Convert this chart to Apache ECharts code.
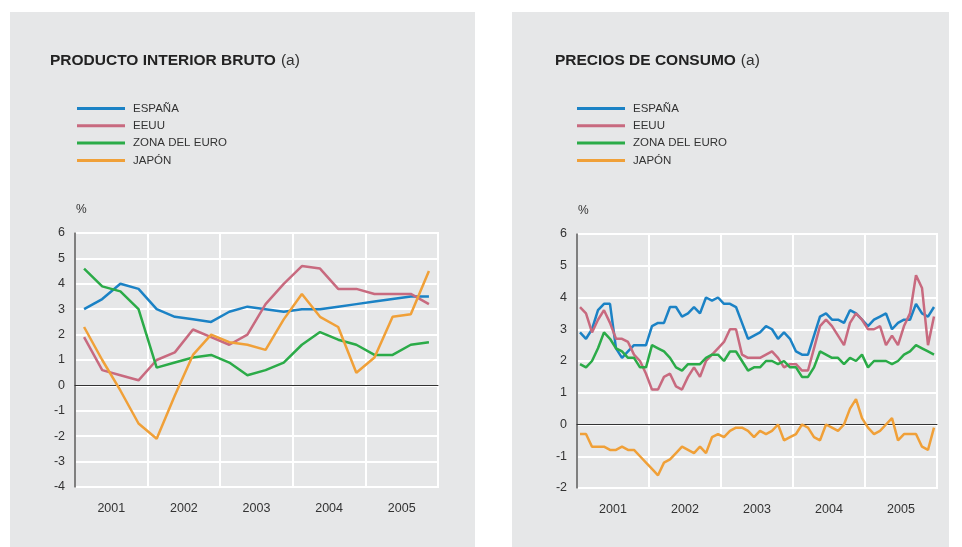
<!DOCTYPE html>
<html>
<head>
<meta charset="utf-8">
<title>PIB y precios de consumo</title>
<script src="https://cdn.jsdelivr.net/npm/echarts@6/dist/echarts.min.js"></script>
<style>
  html, body { margin: 0; padding: 0; background: #fff; }
  #chart { width: 962px; height: 547px; }
</style>
</head>
<body>
<div id="chart"></div>
<script>
// categorias
var years = ['2001', '2002', '2003', '2004', '2005'];
var seriesNames = ['ESPAÑA', 'EEUU', 'ZONA DEL EURO', 'JAPÓN'];
var colors = ['#1b82c5', '#c86a7f', '#2bab48', '#f0a038'];

// PIB trimestral (20 trimestres, 2001-2005)
var pibEspana = [3.0, 3.4, 4.0, 3.8, 3.0, 2.7, 2.6, 2.5, 2.9, 3.1, 3.0, 2.9, 3.0, 3.0, 3.1, 3.2, 3.3, 3.4, 3.5, 3.5];
var pibEeuu   = [1.9, 0.6, 0.4, 0.2, 1.0, 1.3, 2.2, 1.9, 1.6, 2.0, 3.2, 4.0, 4.7, 4.6, 3.8, 3.8, 3.6, 3.6, 3.6, 3.2];
var pibZona   = [4.6, 3.9, 3.7, 3.0, 0.7, 0.9, 1.1, 1.2, 0.9, 0.4, 0.6, 0.9, 1.6, 2.1, 1.8, 1.6, 1.2, 1.2, 1.6, 1.7];
var pibJapon  = [2.3, 1.0, -0.2, -1.5, -2.1, -0.4, 1.2, 2.0, 1.7, 1.6, 1.4, 2.6, 3.6, 2.7, 2.3, 0.5, 1.1, 2.7, 2.8, 4.5];

// precios de consumo mensuales (60 meses, 2001-2005)
var ipcEspana = [2.9, 2.7, 3.0, 3.6, 3.8, 3.8, 2.4, 2.1, 2.3, 2.5, 2.5, 2.5,
                 3.1, 3.2, 3.2, 3.7, 3.7, 3.4, 3.5, 3.7, 3.5, 4.0, 3.9, 4.0,
                 3.8, 3.8, 3.7, 3.2, 2.7, 2.8, 2.9, 3.1, 3.0, 2.7, 2.9, 2.7,
                 2.3, 2.2, 2.2, 2.8, 3.4, 3.5, 3.3, 3.3, 3.2, 3.6, 3.5, 3.3,
                 3.1, 3.3, 3.4, 3.5, 3.0, 3.2, 3.3, 3.3, 3.8, 3.5, 3.4, 3.7];
var ipcEeuu   = [3.7, 3.5, 2.9, 3.3, 3.6, 3.2, 2.7, 2.7, 2.6, 2.2, 2.0, 1.6,
                 1.1, 1.1, 1.5, 1.6, 1.2, 1.1, 1.5, 1.8, 1.5, 2.0, 2.2, 2.4,
                 2.6, 3.0, 3.0, 2.2, 2.1, 2.1, 2.1, 2.2, 2.3, 2.1, 1.8, 1.9,
                 1.9, 1.7, 1.7, 2.4, 3.1, 3.3, 3.1, 2.8, 2.5, 3.2, 3.5, 3.3,
                 3.0, 3.0, 3.1, 2.5, 2.8, 2.5, 3.1, 3.5, 4.7, 4.3, 2.5, 3.4];
var ipcZona   = [1.9, 1.8, 2.0, 2.4, 2.9, 2.7, 2.4, 2.3, 2.1, 2.1, 1.8, 1.8,
                 2.5, 2.4, 2.3, 2.1, 1.8, 1.7, 1.9, 1.9, 1.9, 2.1, 2.2, 2.2,
                 2.0, 2.3, 2.3, 2.0, 1.7, 1.8, 1.8, 2.0, 2.0, 1.9, 2.0, 1.8,
                 1.8, 1.5, 1.5, 1.8, 2.3, 2.2, 2.1, 2.1, 1.9, 2.1, 2.0, 2.2,
                 1.8, 2.0, 2.0, 2.0, 1.9, 2.0, 2.2, 2.3, 2.5, 2.4, 2.3, 2.2];
var ipcJapon  = [-0.3, -0.3, -0.7, -0.7, -0.7, -0.8, -0.8, -0.7, -0.8, -0.8, -1.0, -1.2,
                 -1.4, -1.6, -1.2, -1.1, -0.9, -0.7, -0.8, -0.9, -0.7, -0.9, -0.4, -0.3,
                 -0.4, -0.2, -0.1, -0.1, -0.2, -0.4, -0.2, -0.3, -0.2, 0.0, -0.5, -0.4,
                 -0.3, 0.0, -0.1, -0.4, -0.5, 0.0, -0.1, -0.2, 0.0, 0.5, 0.8, 0.2,
                 -0.1, -0.3, -0.2, 0.0, 0.2, -0.5, -0.3, -0.3, -0.3, -0.7, -0.8, -0.1];

// categorias de trimestres y meses
var quarters = [];
var months = [];
years.forEach(function (y) {
  for (var q = 1; q <= 4; q++) quarters.push(y + 'T' + q);
  for (var m = 1; m <= 12; m++) months.push(y + '-' + m);
});

var font = '"Liberation Sans", Arial, sans-serif';
var textColor = '#333';

// eje de años (etiquetas y lineas blancas)
function yearAxis(gridIndex) {
  return {
    type: 'category', gridIndex: gridIndex, data: years, position: 'bottom',
    boundaryGap: true,
    axisLine: { show: false, onZero: false },
    axisTick: { show: false },
    axisLabel: { color: textColor, fontSize: 12.5, fontFamily: font, margin: 15 },
    splitLine: { show: true, lineStyle: { color: '#fff', width: 2 } }
  };
}

// eje de datos (linea del cero)
function dataAxis(gridIndex, cats) {
  return {
    type: 'category', gridIndex: gridIndex, data: cats, position: 'top',
    boundaryGap: true,
    axisLine: { show: true, onZero: true, lineStyle: { color: '#333', width: 1 } },
    axisTick: { show: false },
    axisLabel: { show: false },
    splitLine: { show: false }
  };
}

function valueAxis(gridIndex, min, max) {
  return {
    type: 'value', gridIndex: gridIndex, min: min, max: max, interval: 1,
    name: '%', nameLocation: 'end', nameGap: 17,
    nameTextStyle: { color: textColor, fontSize: 12, fontFamily: font, align: 'left', padding: [0, 0, 0, 1] },
    axisLine: { show: true, lineStyle: { color: '#555', width: 1.5 } },
    axisTick: { show: false },
    axisLabel: { color: textColor, fontSize: 12.5, fontFamily: font, margin: 10 },
    splitLine: { show: true, lineStyle: { color: '#fff', width: 2 } }
  };
}

function lineSeries(name, data, color, xIdx, yIdx) {
  return {
    name: name, type: 'line', data: data,
    xAxisIndex: xIdx, yAxisIndex: yIdx,
    symbol: 'none', smooth: false,
    lineStyle: { color: color, width: 2.5 },
    itemStyle: { color: color },
    z: 3
  };
}

function legendAt(left) {
  return {
    orient: 'vertical', left: left, top: 96.5,
    data: seriesNames,
    icon: 'rect', itemWidth: 48, itemHeight: 3, itemGap: 3.3,
    textStyle: { color: textColor, fontSize: 11.5, fontFamily: font, lineHeight: 14, padding: [0, 0, 0, 3] }
  };
}

function titleAt(left, main) {
  return {
    left: left, top: 47,
    text: '{b|' + main + '} {n|(a)}',
    textStyle: { fontWeight: 'normal', rich: {
      b: { fontSize: 15.5, fontWeight: 'bold', color: '#222', fontFamily: font },
      n: { fontSize: 15.5, fontWeight: 'normal', color: '#333', fontFamily: font }
    } }
  };
}

var chart = echarts.init(document.getElementById('chart'));

var option = {
  animation: false,
  color: colors,
  graphic: [
    { type: 'rect', z: -10, shape: { x: 10, y: 12, width: 465, height: 535 }, style: { fill: '#e6e7e8' } },
    { type: 'rect', z: -10, shape: { x: 512, y: 12, width: 437, height: 535 }, style: { fill: '#e6e7e8' } }
  ],
  title: [
    titleAt(45, 'PRODUCTO INTERIOR BRUTO'),
    titleAt(550, 'PRECIOS DE CONSUMO')
  ],
  legend: [legendAt(72), legendAt(572)],
  grid: [
    { left: 75, top: 233, width: 363, height: 254, show: true, borderColor: '#fff', borderWidth: 2, backgroundColor: 'transparent' },
    { left: 577, top: 234, width: 360, height: 254, show: true, borderColor: '#fff', borderWidth: 2, backgroundColor: 'transparent' }
  ],
  xAxis: [yearAxis(0), dataAxis(0, quarters), yearAxis(1), dataAxis(1, months)],
  yAxis: [valueAxis(0, -4, 6), valueAxis(1, -2, 6)],
  series: [
    lineSeries('ESPAÑA', pibEspana, colors[0], 1, 0),
    lineSeries('EEUU', pibEeuu, colors[1], 1, 0),
    lineSeries('ZONA DEL EURO', pibZona, colors[2], 1, 0),
    lineSeries('JAPÓN', pibJapon, colors[3], 1, 0),
    lineSeries('ESPAÑA', ipcEspana, colors[0], 3, 1),
    lineSeries('EEUU', ipcEeuu, colors[1], 3, 1),
    lineSeries('ZONA DEL EURO', ipcZona, colors[2], 3, 1),
    lineSeries('JAPÓN', ipcJapon, colors[3], 3, 1)
  ]
};

option && chart.setOption(option);
</script>
</body>
</html>
